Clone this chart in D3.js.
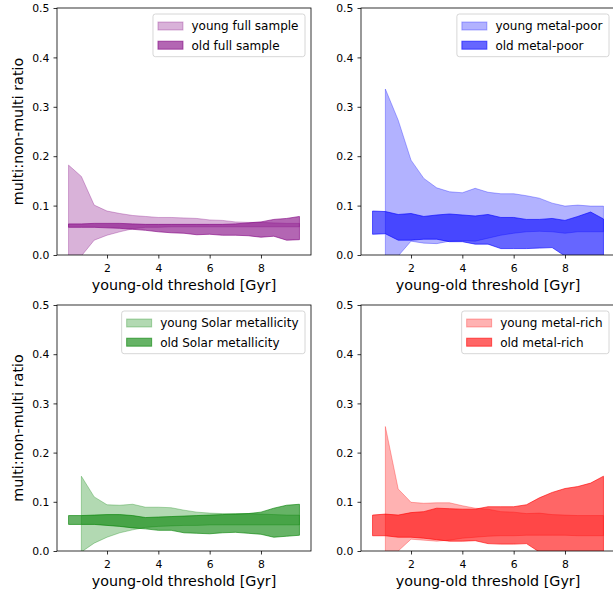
<!DOCTYPE html>
<html>
<head>
<meta charset="utf-8">
<script src="https://cdn.jsdelivr.net/npm/d3@7"></script>
<style>
  body { margin: 0; background: #fff; }
  text { font-family: "DejaVu Sans", sans-serif; fill: #000; }
</style>
</head>
<body>
<svg id="fig" width="613" height="593"></svg>
<script>
// Young-old age threshold (Gyr) at which the sample is split
const thresholds = [0.5, 1.0, 1.5, 2.0, 2.5, 3.0, 3.5, 4.0, 4.5, 5.0, 5.5, 6.0, 6.5, 7.0, 7.5, 8.0, 8.5, 9.0, 9.5];

// Full sample: lower / upper bounds of the multi:non-multi ratio
const youngFullLo = [-0.060, -0.002, 0.030, 0.040, 0.047, 0.053, 0.056, 0.056, 0.057, 0.057, 0.057, 0.057, 0.057, 0.057, 0.057, 0.057, 0.057, 0.057, 0.057];
const youngFullHi = [0.182, 0.159, 0.101, 0.089, 0.084, 0.080, 0.078, 0.076, 0.076, 0.075, 0.074, 0.071, 0.070, 0.067, 0.066, 0.066, 0.065, 0.064, 0.064];
const oldFullLo   = [0.056, 0.056, 0.056, 0.055, 0.054, 0.052, 0.050, 0.047, 0.045, 0.044, 0.041, 0.042, 0.040, 0.040, 0.039, 0.036, 0.038, 0.030, 0.031];
const oldFullHi   = [0.063, 0.063, 0.064, 0.064, 0.064, 0.063, 0.062, 0.062, 0.062, 0.062, 0.062, 0.062, 0.062, 0.063, 0.065, 0.067, 0.072, 0.074, 0.078];

// Metal-poor stars (young band undefined at 0.5 Gyr)
const youngPoorLo = [null, -0.035, -0.002, 0.028, 0.024, 0.023, 0.028, 0.029, 0.028, 0.034, 0.040, 0.044, 0.047, 0.048, 0.047, 0.044, 0.047, 0.047, 0.047];
const youngPoorHi = [null, 0.336, 0.273, 0.192, 0.155, 0.136, 0.128, 0.126, 0.135, 0.127, 0.124, 0.124, 0.120, 0.115, 0.105, 0.099, 0.101, 0.099, 0.099];
const oldPoorLo   = [0.042, 0.043, 0.030, 0.030, 0.032, 0.032, 0.027, 0.027, 0.022, 0.022, 0.013, 0.013, 0.013, 0.014, 0.015, -0.002, -0.010, -0.010, -0.010];
const oldPoorHi   = [0.089, 0.088, 0.082, 0.084, 0.078, 0.081, 0.083, 0.081, 0.079, 0.082, 0.076, 0.076, 0.072, 0.072, 0.074, 0.070, 0.078, 0.087, 0.073];

// Solar-metallicity stars
const youngSolarLo = [null, -0.002, 0.016, 0.028, 0.037, 0.043, 0.048, 0.050, 0.051, 0.052, 0.052, 0.053, 0.053, 0.053, 0.053, 0.053, 0.053, 0.053, 0.053];
const youngSolarHi = [null, 0.152, 0.110, 0.094, 0.093, 0.095, 0.089, 0.089, 0.088, 0.083, 0.079, 0.077, 0.076, 0.076, 0.076, 0.075, 0.074, 0.073, 0.073];
const oldSolarLo   = [0.054, 0.054, 0.054, 0.052, 0.050, 0.047, 0.045, 0.042, 0.042, 0.037, 0.036, 0.035, 0.037, 0.038, 0.036, 0.034, 0.028, 0.030, 0.032];
const oldSolarHi   = [0.072, 0.072, 0.073, 0.074, 0.074, 0.072, 0.068, 0.069, 0.070, 0.071, 0.072, 0.073, 0.074, 0.075, 0.076, 0.079, 0.087, 0.093, 0.095];

// Metal-rich stars
const youngRichLo = [null, -0.030, 0.000, 0.024, 0.022, 0.020, 0.022, 0.026, 0.028, 0.030, 0.031, 0.031, 0.032, 0.032, 0.032, 0.032, 0.031, 0.031, 0.031];
const youngRichHi = [null, 0.253, 0.126, 0.099, 0.097, 0.098, 0.098, 0.092, 0.087, 0.085, 0.080, 0.079, 0.076, 0.077, 0.074, 0.073, 0.072, 0.072, 0.072];
const oldRichLo   = [0.031, 0.031, 0.028, 0.028, 0.026, 0.023, 0.020, 0.020, 0.021, 0.015, 0.014, 0.014, 0.015, -0.002, -0.020, -0.020, -0.020, -0.020, -0.020];
const oldRichHi   = [0.073, 0.075, 0.073, 0.078, 0.080, 0.087, 0.086, 0.085, 0.085, 0.090, 0.090, 0.090, 0.094, 0.108, 0.119, 0.127, 0.131, 0.138, 0.152];

// Axis ticks and labels
const xTicks = [2, 4, 6, 8];
const yTicks = [0.0, 0.1, 0.2, 0.3, 0.4, 0.5];
const xLabel = "young-old threshold [Gyr]";
const yLabel = "multi:non-multi ratio";

// Sub-sample names and colours
const groupNames  = ["full sample", "metal-poor", "Solar metallicity", "metal-rich"];
const groupColors = ["#800080", "#0000ff", "#008000", "#ff0000"];

const bands = [
  [youngFullLo, youngFullHi, oldFullLo, oldFullHi],
  [youngPoorLo, youngPoorHi, oldPoorLo, oldPoorHi],
  [youngSolarLo, youngSolarHi, oldSolarLo, oldSolarHi],
  [youngRichLo, youngRichHi, oldRichLo, oldRichHi]
];

// 2x2 grid of axes
const axW = 254;
const frames = [
  { left: 57,  top: 8,   height: 247, ylab: true },
  { left: 361, top: 8,   height: 247, ylab: true && false },
  { left: 57,  top: 305, height: 246, ylab: true },
  { left: 361, top: 305, height: 246, ylab: false }
];

const svg = d3.select("#fig");
svg.append("rect").attr("width", 613).attr("height", 593).attr("fill", "#fff");

const youngAlpha = 0.3, oldAlpha = 0.6;

frames.forEach((f, i) => {
  const bottom = f.top + f.height;
  const x = d3.scaleLinear().domain([0.05, 9.95]).range([f.left, f.left + axW]);
  const y = d3.scaleLinear().domain([0, 0.5]).range([bottom, f.top]);
  const color = groupColors[i];
  const [yl, yh, ol, oh] = bands[i];

  const clipId = "clip" + i;
  svg.append("clipPath").attr("id", clipId)
    .append("rect").attr("x", f.left).attr("y", f.top).attr("width", axW).attr("height", f.height);

  const g = svg.append("g").attr("clip-path", `url(#${clipId})`);

  const area = (lo, hi) => d3.area()
    .defined((d, k) => lo[k] != null && hi[k] != null)
    .x(d => x(d))
    .y0((d, k) => y(lo[k]))
    .y1((d, k) => y(hi[k]));

  // young band first, old band on top
  g.append("path").datum(thresholds).attr("d", area(yl, yh)(thresholds))
    .attr("fill", color).attr("fill-opacity", youngAlpha)
    .attr("stroke", color).attr("stroke-opacity", youngAlpha).attr("stroke-width", 1);
  g.append("path").datum(thresholds).attr("d", area(ol, oh)(thresholds))
    .attr("fill", color).attr("fill-opacity", oldAlpha)
    .attr("stroke", color).attr("stroke-opacity", oldAlpha).attr("stroke-width", 1);

  // axes
  const gx = svg.append("g").attr("transform", `translate(0,${bottom})`)
    .call(d3.axisBottom(x).tickValues(xTicks).tickFormat(d3.format("d")).tickSize(3.5).tickPadding(4.5));
  const gy = svg.append("g").attr("transform", `translate(${f.left},0)`)
    .call(d3.axisLeft(y).tickValues(yTicks).tickFormat(d3.format(".1f")).tickSize(3.5).tickPadding(4.2));
  [gx, gy].forEach(a => {
    a.select(".domain").remove();
    a.attr("font-family", null).attr("font-size", null);
    a.selectAll(".tick line").attr("stroke", "#000").attr("stroke-width", 0.8);
    a.selectAll(".tick text").attr("fill", "#000").style("font-size", "10.8px");
  });
  gx.selectAll(".tick text").attr("dy", null).attr("y", 17);
  gy.selectAll(".tick text").attr("dy", "0.35em");

  // spines
  svg.append("rect").attr("x", f.left).attr("y", f.top).attr("width", axW).attr("height", f.height)
    .attr("fill", "none").attr("stroke", "#000").attr("stroke-width", 0.8);

  // axis labels
  svg.append("text").attr("x", f.left + axW / 2).attr("y", bottom + 35)
    .attr("text-anchor", "middle").style("font-size", "14.3px").text(xLabel);
  if (f.ylab) {
    svg.append("text")
      .attr("transform", `translate(22.5,${f.top + f.height / 2}) rotate(-90)`)
      .attr("text-anchor", "middle").style("font-size", "14.3px").text(yLabel);
  }

  // legend
  const lg = svg.append("g");
  const labels = ["young " + groupNames[i], "old " + groupNames[i]];
  const box = lg.append("rect");
  const texts = labels.map((t, k) => lg.append("text").style("font-size", "12px").text(t));
  const tw = d3.max(texts, t => t.node().getComputedTextLength());
  const boxRight = f.left + axW - 6;
  const boxW = tw + 45;
  const boxLeft = boxRight - boxW;
  const boxTop = f.top + 6;
  box.attr("x", boxLeft).attr("y", boxTop).attr("width", boxW).attr("height", 42.7)
    .attr("rx", 2.5).attr("fill", "#fff").attr("fill-opacity", 0.8)
    .attr("stroke", "#cccccc").attr("stroke-width", 0.8);
  [youngAlpha, oldAlpha].forEach((a, k) => {
    const cy = boxTop + 12 + k * 19.2;
    lg.append("rect").attr("x", boxLeft + 5).attr("y", cy - 4).attr("width", 25).attr("height", 8)
      .attr("fill", color).attr("fill-opacity", a)
      .attr("stroke", color).attr("stroke-opacity", a).attr("stroke-width", 1);
    texts[k].attr("x", boxLeft + 38.5).attr("y", cy + 4.3);
  });
});
</script>
</body>
</html>
